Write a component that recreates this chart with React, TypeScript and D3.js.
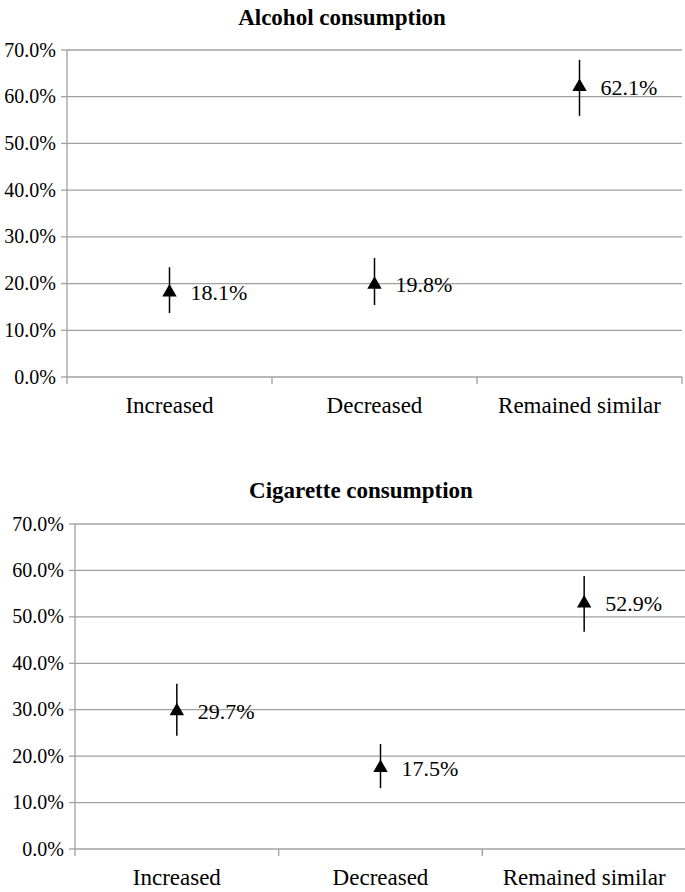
import React from "react";
import * as d3 from "d3";

const categories = ["Increased", "Decreased", "Remained similar"];
const yTicks = [0, 0.1, 0.2, 0.3, 0.4, 0.5, 0.6, 0.7];

const alcoholValues = [0.181, 0.198, 0.621];
const alcoholLow = [0.137, 0.154, 0.559];
const alcoholHigh = [0.235, 0.255, 0.679];

const cigaretteValues = [0.297, 0.175, 0.529];
const cigaretteLow = [0.244, 0.131, 0.468];
const cigaretteHigh = [0.356, 0.226, 0.588];

const FONT = "Liberation Serif";

type ChartProps = {
  title: string;
  values: number[];
  low: number[];
  high: number[];
  left: number;
  right: number;
  y70: number;
  y0: number;
  titleX: number;
  titleY: number;
};

function Chart({ title, values, low, high, left, right, y70, y0, titleX, titleY }: ChartProps) {
  const y = d3.scaleLinear().domain([0, 0.7]).range([y0, y70]);
  const x = d3.scaleBand().domain(categories).range([left, right]).paddingInner(0).paddingOuter(0);
  const fmt = d3.format(".1%");
  const tri = d3.symbol().type(d3.symbolTriangle).size(90);
  const grid = "#a0a0a0";
  return (
    <g>
      <text x={titleX} y={titleY} textAnchor="middle" fontFamily={FONT} fontWeight="bold" fontSize={23}>
        {title}
      </text>
      {yTicks.map((t) => (
        <g key={t}>
          {t > 0 && (
            <line x1={left} x2={right} y1={y(t)} y2={y(t)} stroke={grid} strokeWidth={1.3} />
          )}
          <line x1={left - 6} x2={left} y1={y(t)} y2={y(t)} stroke={grid} strokeWidth={1.3} />
          <text x={left - 11} y={y(t)} dy="0.33em" textAnchor="end" fontFamily={FONT} fontSize={20}>
            {fmt(t)}
          </text>
        </g>
      ))}
      <line x1={left} x2={left} y1={y70} y2={y0 + 7} stroke={grid} strokeWidth={1.3} />
      <line x1={left} x2={right} y1={y0} y2={y0} stroke={grid} strokeWidth={1.3} />
      {categories.map((c, i) => (
        <g key={c}>
          {i > 0 && (
            <line x1={x(c)!} x2={x(c)!} y1={y0} y2={y0 + 7} stroke={grid} strokeWidth={1.3} />
          )}
          <text
            x={x(c)! + x.bandwidth() / 2}
            y={y0 + 36}
            textAnchor="middle"
            fontFamily={FONT}
            fontSize={23}
          >
            {c}
          </text>
        </g>
      ))}
      <line x1={right} x2={right} y1={y0} y2={y0 + 7} stroke={grid} strokeWidth={1.3} />
      {categories.map((c, i) => {
        const cx = x(c)! + x.bandwidth() / 2;
        return (
          <g key={"p" + c}>
            <line x1={cx} x2={cx} y1={y(high[i])} y2={y(low[i])} stroke="#000" strokeWidth={1.5} />
            <path d={tri()!} transform={`translate(${cx},${y(values[i])})`} fill="#000" />
            <text x={cx + 21} y={y(values[i])} dy="0.36em" fontFamily={FONT} fontSize={22}>
              {fmt(values[i])}
            </text>
          </g>
        );
      })}
    </g>
  );
}

export default function App() {
  return (
    <svg
      width={685}
      height={892}
      style={{ position: "absolute", top: 0, left: 0, background: "#fff" }}
    >
      <rect width={685} height={892} fill="#fff" />
      <Chart
        title="Alcohol consumption"
        values={alcoholValues}
        low={alcoholLow}
        high={alcoholHigh}
        left={67}
        right={682}
        y70={50}
        y0={377}
        titleX={342}
        titleY={25}
      />
      <Chart
        title="Cigarette consumption"
        values={cigaretteValues}
        low={cigaretteLow}
        high={cigaretteHigh}
        left={75}
        right={686}
        y70={524}
        y0={849}
        titleX={361}
        titleY={498}
      />
    </svg>
  );
}
